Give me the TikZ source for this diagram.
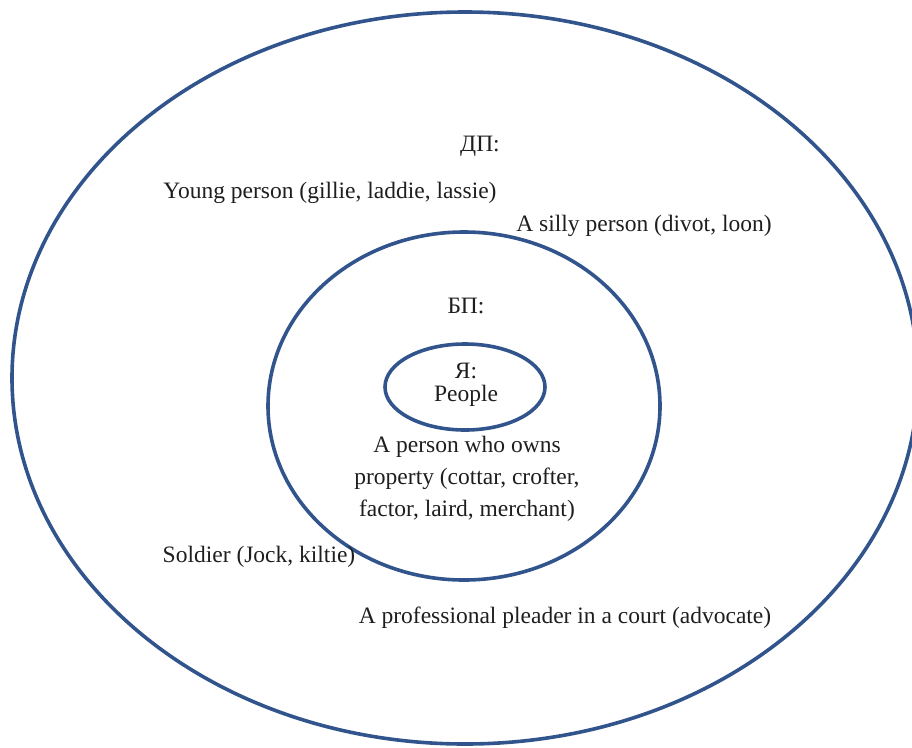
\documentclass[tikz,border=0pt]{standalone}
\usepackage{fontspec}
\setmainfont{LiberationSerif}[Extension=.ttf, UprightFont=*-Regular, BoldFont=*-Bold]
\usetikzlibrary{shapes.geometric}
\definecolor{ringblue}{RGB}{50,84,140}
\definecolor{txt}{RGB}{30,30,30}
\tikzset{
  ring/.style={ellipse, draw=ringblue, line width=3.6pt, inner sep=0pt},
  lbl/.style={text=txt, font=\fontsize{23.5}{32}\selectfont, inner sep=0pt, align=center}
}
\begin{document}
\begin{tikzpicture}[x=1pt,y=-1pt]
\useasboundingbox (0,0) rectangle (912,747);
\clip (0,0) rectangle (912,747);
\node[ring, minimum width=906pt, minimum height=732pt] (outer) at (465,378) {};
\node[ring, minimum width=392pt, minimum height=348pt] (middle) at (464,406) {};
\node[ring, minimum width=160pt, minimum height=86pt] (inner) at (465,387) {};
\node[lbl] (dp) at (480,146) {ДП:};
\node[lbl] (young) at (330,193) {Young person (gillie, laddie, lassie)};
\node[lbl] (silly) at (644,226) {A silly person (divot, loon)};
\node[lbl] (bp) at (466,306) {БП:};
\node[lbl, font=\fontsize{23.5}{23}\selectfont] (ya) at (466,385) {Я:\\People};
\node[lbl] (owner) at (467,479) {A person who owns\\property (cottar, crofter,\\factor, laird, merchant)};
\node[lbl] (soldier) at (259,557) {Soldier (Jock, kiltie)};
\node[lbl] (pleader) at (565,618) {A professional pleader in a court (advocate)};
\end{tikzpicture}
\end{document}
